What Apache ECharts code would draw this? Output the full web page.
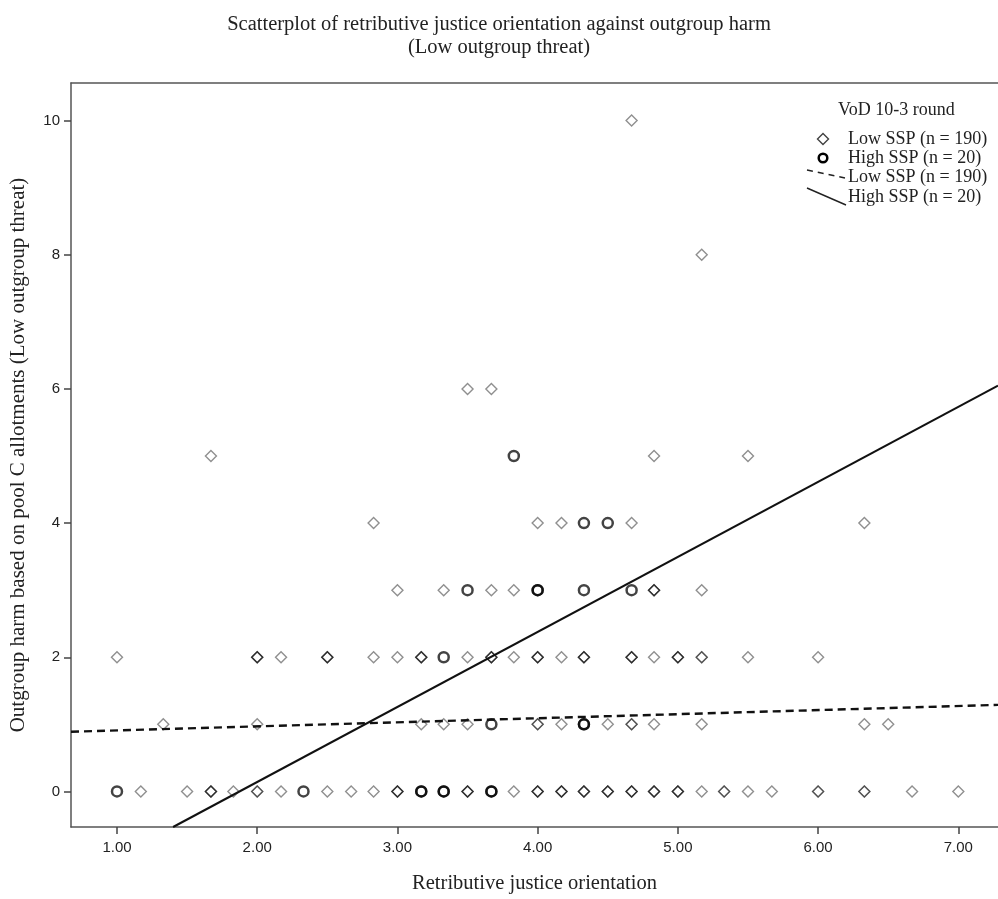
<!DOCTYPE html>
<html>
<head>
<meta charset="utf-8">
<script src="https://cdn.jsdelivr.net/npm/echarts@6/dist/echarts.min.js"></script>
<style>
html,body{margin:0;padding:0;background:#fff;}
#chart{width:998px;height:899px;}
</style>
</head>
<body>
<div id="chart"></div>
<script>
// ---- data (x = retributive justice orientation, y = outgroup harm) ----
// Low SSP points (diamonds); repeated entries = overlapping cases (darker marks)
var lowSSP_row0 = [1.17,1.50,1.67,1.67,1.67,1.83,2.00,2.00,2.17,2.50,2.67,2.83,3.00,3.00,3.00,3.50,3.50,3.50,3.83,
  4.00,4.00,4.00,4.17,4.17,4.17,4.33,4.33,4.33,4.50,4.50,4.50,4.67,4.67,4.67,4.83,4.83,4.83,5.00,5.00,5.00,
  5.17,5.33,5.33,5.50,5.67,6.00,6.00,6.33,6.33,6.67,7.00];
var lowSSP_row1 = [1.33,2.00,3.17,3.33,3.50,4.00,4.00,4.17,4.50,4.67,4.67,4.83,5.17,6.33,6.50];
var lowSSP_row2 = [1.00,2.00,2.00,2.00,2.17,2.50,2.50,2.50,2.83,3.00,3.17,3.17,3.17,3.50,3.67,3.67,3.67,3.83,
  4.00,4.00,4.00,4.17,4.33,4.33,4.33,4.67,4.67,4.67,4.83,5.00,5.00,5.00,5.17,5.17,5.50,6.00];
var lowSSP_row3 = [3.00,3.33,3.67,3.83,4.83,4.83,4.83,5.17];
var lowSSP_row4 = [2.83,4.00,4.17,4.67,6.33];
var lowSSP_row5 = [1.67,4.83,5.50];
var lowSSP_row6 = [3.50,3.67];
var lowSSP_row8 = [5.17];
var lowSSP_row10 = [4.67];
// High SSP points (circles)
var highSSP_row0 = [1.00,2.33,3.17,3.17,3.33,3.33,3.67,3.67];
var highSSP_row1 = [3.67,4.33,4.33];
var highSSP_row2 = [3.33];
var highSSP_row3 = [3.50,4.00,4.00,4.33,4.67];
var highSSP_row4 = [4.33,4.50];
var highSSP_row5 = [3.83];
// fit lines (end points)
var fitLow = [[0.672, 0.89], [7.283, 1.29]];
var fitHigh = [[1.40, -0.53], [7.283, 6.05]];
// tick labels
var xTicks = [1, 2, 3, 4, 5, 6, 7];
var yTicks = [0, 2, 4, 6, 8, 10];
var seriesNames = ['Low SSP (n = 190)', 'High SSP (n = 20)'];

function rows(obj) {
  var out = [];
  Object.keys(obj).forEach(function (k) {
    obj[k].forEach(function (x) { out.push([x, Number(k)]); });
  });
  return out;
}
var lowData = rows({0: lowSSP_row0, 1: lowSSP_row1, 2: lowSSP_row2, 3: lowSSP_row3, 4: lowSSP_row4,
  5: lowSSP_row5, 6: lowSSP_row6, 8: lowSSP_row8, 10: lowSSP_row10});
var highData = rows({0: highSSP_row0, 1: highSSP_row1, 2: highSSP_row2, 3: highSSP_row3, 4: highSSP_row4, 5: highSSP_row5});

var serif = '"Liberation Serif", "DejaVu Serif", serif';
var sans = '"Liberation Sans", Arial, sans-serif';

var chart = echarts.init(document.getElementById('chart'), null, {renderer: 'canvas'});
var axisLineStyle = {color: '#555', width: 1.5};
chart.setOption({
  animation: false,
  backgroundColor: '#fff',
  title: {
    text: 'Scatterplot of retributive justice orientation against outgroup harm\n(Low outgroup threat)',
    left: 'center', top: 8,
    textStyle: {fontFamily: serif, fontSize: 20.5, fontWeight: 'normal', color: '#222', lineHeight: 23}
  },
  grid: {left: 71, right: 0, top: 83, bottom: 66, containLabel: false},
  xAxis: [{
    type: 'value', min: 0.672, max: 7.283,
    name: 'Retributive justice orientation', nameLocation: 'middle', nameGap: 46,
    nameTextStyle: {fontFamily: serif, fontSize: 20.5, color: '#222'},
    axisLine: {show: true, onZero: false, lineStyle: axisLineStyle},
    axisTick: {show: true, length: 7, inside: false, customValues: xTicks, lineStyle: {color: '#444', width: 1.5}},
    axisLabel: {customValues: xTicks, formatter: function (v) { return v.toFixed(2); },
      fontFamily: sans, fontSize: 15, color: '#222', margin: 13},
    splitLine: {show: false}
  }, {
    type: 'value', min: 0.672, max: 7.283, position: 'top',
    axisLine: {show: true, onZero: false, lineStyle: axisLineStyle},
    axisTick: {show: false}, axisLabel: {show: false}, splitLine: {show: false}
  }],
  yAxis: {
    type: 'value', min: -0.53, max: 10.56,
    name: 'Outgroup harm based on pool C allotments (Low outgroup threat)',
    nameLocation: 'middle', nameGap: 42, nameRotate: 90,
    nameTextStyle: {fontFamily: serif, fontSize: 21, color: '#222'},
    axisLine: {show: true, onZero: false, lineStyle: axisLineStyle},
    axisTick: {show: true, length: 7, inside: false, customValues: yTicks, lineStyle: {color: '#444', width: 1.5}},
    axisLabel: {customValues: yTicks, formatter: function (v) { return String(v); },
      fontFamily: sans, fontSize: 15, color: '#222', margin: 11},
    splitLine: {show: false}
  },
  series: [{
    name: seriesNames[0], type: 'scatter', data: lowData,
    symbol: 'diamond', symbolSize: 11,
    itemStyle: {color: 'rgba(255,255,255,0)', borderColor: 'rgba(0,0,0,0.55)', borderWidth: 1.4},
    z: 2
  }, {
    name: seriesNames[1], type: 'scatter', data: highData,
    symbol: 'circle', symbolSize: 10,
    itemStyle: {color: 'rgba(255,255,255,0)', borderColor: 'rgba(0,0,0,0.92)', borderWidth: 2.5},
    z: 2
  }, {
    name: seriesNames[0] + ' ', type: 'line', data: fitLow, showSymbol: false, symbol: 'none',
    lineStyle: {color: '#111', width: 2.4, type: [8, 5]}, clip: true, z: 3
  }, {
    name: seriesNames[1] + ' ', type: 'line', data: fitHigh, showSymbol: false, symbol: 'none',
    lineStyle: {color: '#111', width: 2}, clip: true, z: 3
  }],
  graphic: [
    {type: 'text', x: 838, y: 110, style: {text: 'VoD 10-3 round', font: '18px ' + serif, fill: '#222', verticalAlign: 'middle'}},
    {type: 'polygon', shape: {points: [[823,133.5],[828.5,139],[823,144.5],[817.5,139]]},
      style: {fill: 'none', stroke: 'rgba(0,0,0,0.75)', lineWidth: 1.4}},
    {type: 'text', x: 848, y: 139, style: {text: seriesNames[0], font: '18px ' + serif, fill: '#222', verticalAlign: 'middle'}},
    {type: 'circle', shape: {cx: 823, cy: 158, r: 4.3}, style: {fill: 'none', stroke: '#000', lineWidth: 2.5}},
    {type: 'text', x: 848, y: 158, style: {text: seriesNames[1], font: '18px ' + serif, fill: '#222', verticalAlign: 'middle'}},
    {type: 'line', shape: {x1: 807, y1: 170, x2: 845, y2: 178}, style: {stroke: '#222', lineWidth: 1.4, lineDash: [6, 5]}},
    {type: 'text', x: 848, y: 177, style: {text: seriesNames[0], font: '18px ' + serif, fill: '#222', verticalAlign: 'middle'}},
    {type: 'line', shape: {x1: 807, y1: 188, x2: 846, y2: 205}, style: {stroke: '#222', lineWidth: 1.4}},
    {type: 'text', x: 848, y: 197, style: {text: seriesNames[1], font: '18px ' + serif, fill: '#222', verticalAlign: 'middle'}}
  ]
});
</script>
</body>
</html>
